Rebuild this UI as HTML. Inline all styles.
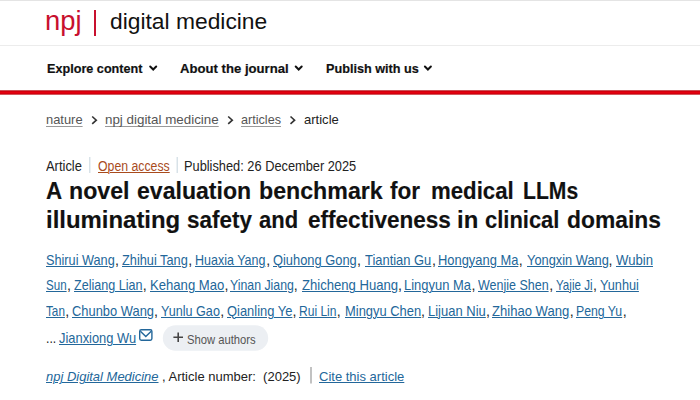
<!DOCTYPE html>
<html><head><meta charset="utf-8">
<style>
html,body{margin:0;padding:0;width:700px;height:400px;overflow:hidden;background:#fff;}
body{font-family:"Liberation Sans",sans-serif;position:relative;}
.a{position:absolute;white-space:nowrap;line-height:1;transform-origin:0 50%;}
</style></head><body>

<div style="position:absolute;left:0;top:0;width:700px;height:1px;background:#e4e4e4"></div>
<div style="position:absolute;left:94px;top:9.5px;width:2px;height:26px;background:#c8102e"></div>
<div style="position:absolute;left:0;top:45px;width:700px;height:1px;background:#ececec"></div>
<div style="position:absolute;left:0;top:90px;width:700px;height:5px;background:linear-gradient(#d4a0a0 0,#c3000c 20%,#e6000f 45%,#e6000f 60%,#c3000c 80%,#e0b0b0 100%)"></div>
<svg style="position:absolute;left:0;top:0" width="700" height="400">
 <g fill="none" stroke="#111" stroke-width="2" stroke-linecap="round" stroke-linejoin="miter">
  <path d="M150.2 66.5 L153.2 69.5 L156.2 66.5"/>
  <path d="M295.7 66.5 L298.7 69.5 L301.7 66.5"/>
  <path d="M424.9 66.5 L427.9 69.5 L430.9 66.5"/>
 </g>
 <g fill="none" stroke="#333" stroke-width="1.6">
  <path d="M92.2 116.5 L96.3 120.2 L92.2 123.9"/>
  <path d="M228.2 116.5 L232.3 120.2 L228.2 123.9"/>
  <path d="M290.5 116.5 L294.6 120.2 L290.5 123.9"/>
 </g>
 <rect x="89.2" y="157" width="1.2" height="16" fill="#cfdbe3"/>
 <rect x="176.6" y="157" width="1.2" height="16" fill="#cfdbe3"/>
 <rect x="310.4" y="367" width="1.2" height="16.5" fill="#9a9a9a"/>
 <rect x="162.8" y="325.2" width="105.4" height="25.6" rx="12.8" fill="#eceff3"/>
 <g fill="none" stroke="#444" stroke-width="1.6"><path d="M178.2 332.5 V342 M173.4 337.2 H183"/></g>
 <g fill="none" stroke="#23679a" stroke-width="1.4"><rect x="139.7" y="329.8" width="12.2" height="10.4" rx="1.6"/><path d="M140.4 331.2 L145.8 336.5 L151.2 331.2"/></g>
</svg>

<div class="a" style="left:44.69px;top:8.14px;font-size:27px;font-weight:400;font-style:normal;color:#c8102e;transform:scaleX(1.0137);">npj</div>
<div class="a" style="left:110.00px;top:11.38px;font-size:22px;font-weight:400;font-style:normal;color:#111;transform:scaleX(1.0370);">digital medicine</div>
<div class="a" style="left:47.00px;top:61.76px;font-size:13.4px;font-weight:700;font-style:normal;color:#111;-webkit-text-stroke:0.2px #111;transform:scaleX(0.9437);">Explore content</div>
<div class="a" style="left:179.60px;top:61.76px;font-size:13.4px;font-weight:700;font-style:normal;color:#111;-webkit-text-stroke:0.2px #111;transform:scaleX(0.9808);">About the journal</div>
<div class="a" style="left:325.60px;top:61.76px;font-size:13.4px;font-weight:700;font-style:normal;color:#111;-webkit-text-stroke:0.2px #111;transform:scaleX(0.9452);">Publish with us</div>
<div class="a" style="left:46.40px;top:113.44px;font-size:13.3px;font-weight:400;font-style:normal;color:#555;text-decoration:underline;text-decoration-color:#999;text-underline-offset:1.6px;text-decoration-thickness:1.2px;transform:scaleX(0.9708);">nature</div>
<div class="a" style="left:105.30px;top:113.44px;font-size:13.3px;font-weight:400;font-style:normal;color:#555;text-decoration:underline;text-decoration-color:#999;text-underline-offset:1.6px;text-decoration-thickness:1.2px;transform:scaleX(1.0054);">npj digital medicine</div>
<div class="a" style="left:241.40px;top:113.44px;font-size:13.3px;font-weight:400;font-style:normal;color:#555;text-decoration:underline;text-decoration-color:#999;text-underline-offset:1.6px;text-decoration-thickness:1.2px;transform:scaleX(0.9497);">articles</div>
<div class="a" style="left:303.80px;top:113.44px;font-size:13.3px;font-weight:400;font-style:normal;color:#222;transform:scaleX(0.9808);">article</div>
<div class="a" style="left:46.20px;top:159.05px;font-size:14px;font-weight:400;font-style:normal;color:#222222;transform:scaleX(0.9230);">Article</div>
<div class="a" style="left:97.60px;top:159.05px;font-size:14px;font-weight:400;font-style:normal;color:#a94b1d;text-decoration:underline;text-decoration-color:#a94b1d;text-underline-offset:0.7px;text-decoration-thickness:1.2px;transform:scaleX(0.8775);">Open access</div>
<div class="a" style="left:183.59px;top:159.05px;font-size:14px;font-weight:400;font-style:normal;color:#222222;transform:scaleX(0.9144);">Published: 26 December 2025</div>
<div class="a" style="left:46.00px;top:179.66px;font-size:23.2px;font-weight:700;font-style:normal;color:#111;-webkit-text-stroke:0.15px #111;transform:scaleX(0.9647);">A</div>
<div class="a" style="left:69.00px;top:179.66px;font-size:23.2px;font-weight:700;font-style:normal;color:#111;-webkit-text-stroke:0.15px #111;transform:scaleX(0.9979);">novel</div>
<div class="a" style="left:137.00px;top:179.66px;font-size:23.2px;font-weight:700;font-style:normal;color:#111;-webkit-text-stroke:0.15px #111;transform:scaleX(0.9954);">evaluation</div>
<div class="a" style="left:259.00px;top:179.66px;font-size:23.2px;font-weight:700;font-style:normal;color:#111;-webkit-text-stroke:0.15px #111;">benchmark</div>
<div class="a" style="left:390.00px;top:179.66px;font-size:23.2px;font-weight:700;font-style:normal;color:#111;-webkit-text-stroke:0.15px #111;transform:scaleX(0.9713);">for</div>
<div class="a" style="left:431.04px;top:179.66px;font-size:23.2px;font-weight:700;font-style:normal;color:#111;-webkit-text-stroke:0.15px #111;transform:scaleX(0.9582);">medical</div>
<div class="a" style="left:522.69px;top:179.66px;font-size:23.2px;font-weight:700;font-style:normal;color:#111;-webkit-text-stroke:0.15px #111;transform:scaleX(0.9106);">LLMs</div>
<div class="a" style="left:45.97px;top:208.66px;font-size:23.2px;font-weight:700;font-style:normal;color:#111;-webkit-text-stroke:0.15px #111;transform:scaleX(1.0318);">illuminating</div>
<div class="a" style="left:187.00px;top:208.66px;font-size:23.2px;font-weight:700;font-style:normal;color:#111;-webkit-text-stroke:0.15px #111;transform:scaleX(0.9683);">safety</div>
<div class="a" style="left:259.00px;top:208.66px;font-size:23.2px;font-weight:700;font-style:normal;color:#111;-webkit-text-stroke:0.15px #111;transform:scaleX(0.9486);">and</div>
<div class="a" style="left:308.00px;top:208.66px;font-size:23.2px;font-weight:700;font-style:normal;color:#111;-webkit-text-stroke:0.15px #111;transform:scaleX(0.9723);">effectiveness</div>
<div class="a" style="left:456.97px;top:208.66px;font-size:23.2px;font-weight:700;font-style:normal;color:#111;-webkit-text-stroke:0.15px #111;transform:scaleX(1.0302);">in</div>
<div class="a" style="left:485.00px;top:208.66px;font-size:23.2px;font-weight:700;font-style:normal;color:#111;-webkit-text-stroke:0.15px #111;transform:scaleX(0.9459);">clinical</div>
<div class="a" style="left:567.00px;top:208.66px;font-size:23.2px;font-weight:700;font-style:normal;color:#111;-webkit-text-stroke:0.15px #111;transform:scaleX(0.9847);">domains</div>
<div class="a" style="left:46.10px;top:252.78px;font-size:14.2px;font-weight:400;font-style:normal;color:#23679a;text-decoration:underline;text-decoration-color:#23679a;text-underline-offset:0.7px;text-decoration-thickness:1.2px;transform:scaleX(0.8951);">Shirui Wang</div>
<div class="a" style="left:115.10px;top:252.78px;font-size:14.2px;font-weight:400;font-style:normal;color:#222222;">,</div>
<div class="a" style="left:122.00px;top:252.78px;font-size:14.2px;font-weight:400;font-style:normal;color:#23679a;text-decoration:underline;text-decoration-color:#23679a;text-underline-offset:0.7px;text-decoration-thickness:1.2px;transform:scaleX(0.8998);">Zhihui Tang</div>
<div class="a" style="left:188.30px;top:252.78px;font-size:14.2px;font-weight:400;font-style:normal;color:#222222;">,</div>
<div class="a" style="left:195.40px;top:252.78px;font-size:14.2px;font-weight:400;font-style:normal;color:#23679a;text-decoration:underline;text-decoration-color:#23679a;text-underline-offset:0.7px;text-decoration-thickness:1.2px;transform:scaleX(0.8805);">Huaxia Yang</div>
<div class="a" style="left:266.30px;top:252.78px;font-size:14.2px;font-weight:400;font-style:normal;color:#222222;">,</div>
<div class="a" style="left:272.90px;top:252.78px;font-size:14.2px;font-weight:400;font-style:normal;color:#23679a;text-decoration:underline;text-decoration-color:#23679a;text-underline-offset:0.7px;text-decoration-thickness:1.2px;transform:scaleX(0.9069);">Qiuhong Gong</div>
<div class="a" style="left:356.90px;top:252.78px;font-size:14.2px;font-weight:400;font-style:normal;color:#222222;">,</div>
<div class="a" style="left:365.30px;top:252.78px;font-size:14.2px;font-weight:400;font-style:normal;color:#23679a;text-decoration:underline;text-decoration-color:#23679a;text-underline-offset:0.7px;text-decoration-thickness:1.2px;transform:scaleX(0.9105);">Tiantian Gu</div>
<div class="a" style="left:431.90px;top:252.78px;font-size:14.2px;font-weight:400;font-style:normal;color:#222222;">,</div>
<div class="a" style="left:438.20px;top:252.78px;font-size:14.2px;font-weight:400;font-style:normal;color:#23679a;text-decoration:underline;text-decoration-color:#23679a;text-underline-offset:0.7px;text-decoration-thickness:1.2px;transform:scaleX(0.9091);">Hongyang Ma</div>
<div class="a" style="left:518.80px;top:252.78px;font-size:14.2px;font-weight:400;font-style:normal;color:#222222;">,</div>
<div class="a" style="left:526.50px;top:252.78px;font-size:14.2px;font-weight:400;font-style:normal;color:#23679a;text-decoration:underline;text-decoration-color:#23679a;text-underline-offset:0.7px;text-decoration-thickness:1.2px;transform:scaleX(0.9044);">Yongxin Wang</div>
<div class="a" style="left:608.60px;top:252.78px;font-size:14.2px;font-weight:400;font-style:normal;color:#222222;">,</div>
<div class="a" style="left:616.00px;top:252.78px;font-size:14.2px;font-weight:400;font-style:normal;color:#23679a;text-decoration:underline;text-decoration-color:#23679a;text-underline-offset:0.7px;text-decoration-thickness:1.2px;transform:scaleX(0.9260);">Wubin</div>
<div class="a" style="left:46.10px;top:278.28px;font-size:14.2px;font-weight:400;font-style:normal;color:#23679a;text-decoration:underline;text-decoration-color:#23679a;text-underline-offset:0.7px;text-decoration-thickness:1.2px;transform:scaleX(0.8160);">Sun</div>
<div class="a" style="left:67.00px;top:278.28px;font-size:14.2px;font-weight:400;font-style:normal;color:#222222;">,</div>
<div class="a" style="left:74.00px;top:278.28px;font-size:14.2px;font-weight:400;font-style:normal;color:#23679a;text-decoration:underline;text-decoration-color:#23679a;text-underline-offset:0.7px;text-decoration-thickness:1.2px;transform:scaleX(0.8862);">Zeliang Lian</div>
<div class="a" style="left:142.80px;top:278.28px;font-size:14.2px;font-weight:400;font-style:normal;color:#222222;">,</div>
<div class="a" style="left:150.00px;top:278.28px;font-size:14.2px;font-weight:400;font-style:normal;color:#23679a;text-decoration:underline;text-decoration-color:#23679a;text-underline-offset:0.7px;text-decoration-thickness:1.2px;transform:scaleX(0.9235);">Kehang Mao</div>
<div class="a" style="left:224.60px;top:278.28px;font-size:14.2px;font-weight:400;font-style:normal;color:#222222;">,</div>
<div class="a" style="left:229.60px;top:278.28px;font-size:14.2px;font-weight:400;font-style:normal;color:#23679a;text-decoration:underline;text-decoration-color:#23679a;text-underline-offset:0.7px;text-decoration-thickness:1.2px;transform:scaleX(0.8680);">Yinan Jiang</div>
<div class="a" style="left:293.80px;top:278.28px;font-size:14.2px;font-weight:400;font-style:normal;color:#222222;">,</div>
<div class="a" style="left:301.50px;top:278.28px;font-size:14.2px;font-weight:400;font-style:normal;color:#23679a;text-decoration:underline;text-decoration-color:#23679a;text-underline-offset:0.7px;text-decoration-thickness:1.2px;transform:scaleX(0.9230);">Zhicheng Huang</div>
<div class="a" style="left:397.90px;top:278.28px;font-size:14.2px;font-weight:400;font-style:normal;color:#222222;">,</div>
<div class="a" style="left:404.20px;top:278.28px;font-size:14.2px;font-weight:400;font-style:normal;color:#23679a;text-decoration:underline;text-decoration-color:#23679a;text-underline-offset:0.7px;text-decoration-thickness:1.2px;transform:scaleX(0.9135);">Lingyun Ma</div>
<div class="a" style="left:471.50px;top:278.28px;font-size:14.2px;font-weight:400;font-style:normal;color:#222222;">,</div>
<div class="a" style="left:478.30px;top:278.28px;font-size:14.2px;font-weight:400;font-style:normal;color:#23679a;text-decoration:underline;text-decoration-color:#23679a;text-underline-offset:0.7px;text-decoration-thickness:1.2px;transform:scaleX(0.8805);">Wenjie Shen</div>
<div class="a" style="left:549.20px;top:278.28px;font-size:14.2px;font-weight:400;font-style:normal;color:#222222;">,</div>
<div class="a" style="left:556.10px;top:278.28px;font-size:14.2px;font-weight:400;font-style:normal;color:#23679a;text-decoration:underline;text-decoration-color:#23679a;text-underline-offset:0.7px;text-decoration-thickness:1.2px;transform:scaleX(0.8169);">Yajie Ji</div>
<div class="a" style="left:592.90px;top:278.28px;font-size:14.2px;font-weight:400;font-style:normal;color:#222222;">,</div>
<div class="a" style="left:599.80px;top:278.28px;font-size:14.2px;font-weight:400;font-style:normal;color:#23679a;text-decoration:underline;text-decoration-color:#23679a;text-underline-offset:0.7px;text-decoration-thickness:1.2px;transform:scaleX(0.8965);">Yunhui</div>
<div class="a" style="left:46.10px;top:304.08px;font-size:14.2px;font-weight:400;font-style:normal;color:#23679a;text-decoration:underline;text-decoration-color:#23679a;text-underline-offset:0.7px;text-decoration-thickness:1.2px;transform:scaleX(0.8263);">Tan</div>
<div class="a" style="left:65.30px;top:304.08px;font-size:14.2px;font-weight:400;font-style:normal;color:#222222;">,</div>
<div class="a" style="left:71.60px;top:304.08px;font-size:14.2px;font-weight:400;font-style:normal;color:#23679a;text-decoration:underline;text-decoration-color:#23679a;text-underline-offset:0.7px;text-decoration-thickness:1.2px;transform:scaleX(0.9093);">Chunbo Wang</div>
<div class="a" style="left:153.90px;top:304.08px;font-size:14.2px;font-weight:400;font-style:normal;color:#222222;">,</div>
<div class="a" style="left:161.00px;top:304.08px;font-size:14.2px;font-weight:400;font-style:normal;color:#23679a;text-decoration:underline;text-decoration-color:#23679a;text-underline-offset:0.7px;text-decoration-thickness:1.2px;transform:scaleX(0.8889);">Yunlu Gao</div>
<div class="a" style="left:220.20px;top:304.08px;font-size:14.2px;font-weight:400;font-style:normal;color:#222222;">,</div>
<div class="a" style="left:226.70px;top:304.08px;font-size:14.2px;font-weight:400;font-style:normal;color:#23679a;text-decoration:underline;text-decoration-color:#23679a;text-underline-offset:0.7px;text-decoration-thickness:1.2px;transform:scaleX(0.9105);">Qianling Ye</div>
<div class="a" style="left:292.60px;top:304.08px;font-size:14.2px;font-weight:400;font-style:normal;color:#222222;">,</div>
<div class="a" style="left:299.00px;top:304.08px;font-size:14.2px;font-weight:400;font-style:normal;color:#23679a;text-decoration:underline;text-decoration-color:#23679a;text-underline-offset:0.7px;text-decoration-thickness:1.2px;transform:scaleX(0.8491);">Rui Lin</div>
<div class="a" style="left:336.80px;top:304.08px;font-size:14.2px;font-weight:400;font-style:normal;color:#222222;">,</div>
<div class="a" style="left:344.50px;top:304.08px;font-size:14.2px;font-weight:400;font-style:normal;color:#23679a;text-decoration:underline;text-decoration-color:#23679a;text-underline-offset:0.7px;text-decoration-thickness:1.2px;transform:scaleX(0.9115);">Mingyu Chen</div>
<div class="a" style="left:421.00px;top:304.08px;font-size:14.2px;font-weight:400;font-style:normal;color:#222222;">,</div>
<div class="a" style="left:428.00px;top:304.08px;font-size:14.2px;font-weight:400;font-style:normal;color:#23679a;text-decoration:underline;text-decoration-color:#23679a;text-underline-offset:0.7px;text-decoration-thickness:1.2px;transform:scaleX(0.9161);">Lijuan Niu</div>
<div class="a" style="left:486.10px;top:304.08px;font-size:14.2px;font-weight:400;font-style:normal;color:#222222;">,</div>
<div class="a" style="left:492.30px;top:304.08px;font-size:14.2px;font-weight:400;font-style:normal;color:#23679a;text-decoration:underline;text-decoration-color:#23679a;text-underline-offset:0.7px;text-decoration-thickness:1.2px;transform:scaleX(0.9206);">Zhihao Wang</div>
<div class="a" style="left:569.80px;top:304.08px;font-size:14.2px;font-weight:400;font-style:normal;color:#222222;">,</div>
<div class="a" style="left:576.00px;top:304.08px;font-size:14.2px;font-weight:400;font-style:normal;color:#23679a;text-decoration:underline;text-decoration-color:#23679a;text-underline-offset:0.7px;text-decoration-thickness:1.2px;transform:scaleX(0.8649);">Peng Yu</div>
<div class="a" style="left:622.70px;top:304.08px;font-size:14.2px;font-weight:400;font-style:normal;color:#222222;">,</div>
<div class="a" style="left:45.64px;top:330.78px;font-size:14.2px;font-weight:400;font-style:normal;color:#222222;transform:scaleX(0.8600);">...</div>
<div class="a" style="left:58.90px;top:330.78px;font-size:14.2px;font-weight:400;font-style:normal;color:#23679a;text-decoration:underline;text-decoration-color:#23679a;text-underline-offset:0.7px;text-decoration-thickness:1.2px;transform:scaleX(0.9080);">Jianxiong Wu</div>
<div class="a" style="left:187.10px;top:333.67px;font-size:12.2px;font-weight:400;font-style:normal;color:#555;transform:scaleX(0.9217);">Show authors</div>
<div class="a" style="left:46.30px;top:370.33px;font-size:13.2px;font-weight:400;font-style:italic;color:#23679a;text-decoration:underline;text-decoration-color:#23679a;text-underline-offset:0.7px;text-decoration-thickness:1.2px;transform:scaleX(0.9838);">npj Digital Medicine</div>
<div class="a" style="left:161.61px;top:370.33px;font-size:13.2px;font-weight:400;font-style:normal;color:#222222;transform:scaleX(0.9853);">, Article number:  (2025)</div>
<div class="a" style="left:318.60px;top:370.33px;font-size:13.2px;font-weight:400;font-style:normal;color:#23679a;text-decoration:underline;text-decoration-color:#23679a;text-underline-offset:0.7px;text-decoration-thickness:1.2px;transform:scaleX(0.9864);">Cite this article</div>
</body></html>
